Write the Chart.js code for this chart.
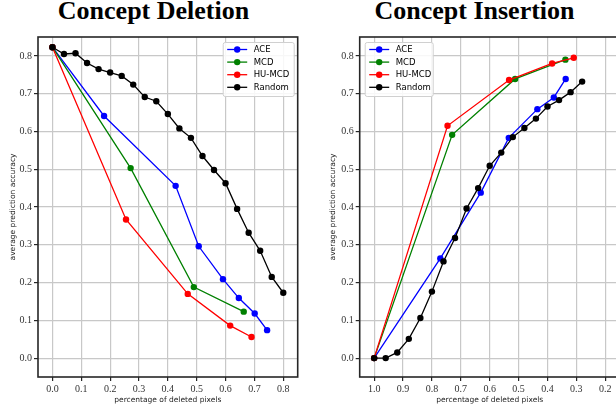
<!DOCTYPE html>
<html>
<head>
<meta charset="utf-8">
<script src="https://cdn.jsdelivr.net/npm/chart.js@4.4.0/dist/chart.umd.min.js"></script>
<style>
  html, body { margin: 0; padding: 0; background: #fff; }
  body { width: 616px; height: 410px; overflow: hidden; position: relative; }
  .title { position: absolute; width: 300px; text-align: center; font: bold 26px "Liberation Serif", serif; line-height: 26px; color: #000; white-space: nowrap; }
  .wrap { position: absolute; top: 0; height: 410px; }
</style>
</head>
<body>
<div class="title" style="left:3.5px;top:-2.3px;">Concept Deletion</div>
<div class="title" style="left:324.5px;top:-2.3px;">Concept Insertion</div>
<div class="wrap" style="left:0;width:308px;"><canvas id="c1" width="308" height="410"></canvas></div>
<div class="wrap" style="left:308px;width:322px;"><canvas id="c2" width="322" height="410"></canvas></div>
<script>
// ---------- data ----------
const seriesNames = ['ACE', 'MCD', 'HU-MCD', 'Random'];
const seriesColors = ['#0000ff', '#008000', '#ff0000', '#000000'];

// Concept Deletion
const aceDelX = [0.0, 0.179, 0.427, 0.507, 0.591, 0.646, 0.701, 0.744];
const aceDelY = [0.823, 0.641, 0.456, 0.296, 0.209, 0.159, 0.118, 0.074];
const mcdDelX = [0.0, 0.271, 0.490, 0.663];
const mcdDelY = [0.823, 0.503, 0.188, 0.123];
const huDelX = [0.0, 0.255, 0.469, 0.616, 0.690];
const huDelY = [0.823, 0.367, 0.170, 0.086, 0.056];
const randDelX = [0.0, 0.04, 0.08, 0.12, 0.16, 0.20, 0.24, 0.28, 0.32, 0.36, 0.40, 0.44, 0.48, 0.52, 0.56, 0.60, 0.64, 0.68, 0.72, 0.76, 0.80];
const randDelY = [0.823, 0.805, 0.807, 0.781, 0.765, 0.756, 0.747, 0.724, 0.691, 0.680, 0.646, 0.608, 0.583, 0.535, 0.498, 0.463, 0.395, 0.332, 0.284, 0.215, 0.173];

// Concept Insertion
const aceInsX = [1.0, 0.771, 0.631, 0.534, 0.435, 0.378, 0.337];
const aceInsY = [0.0, 0.264, 0.438, 0.583, 0.659, 0.690, 0.739];
const mcdInsX = [1.0, 0.730, 0.512, 0.338];
const mcdInsY = [0.0, 0.591, 0.739, 0.790];
const huInsX = [1.0, 0.746, 0.533, 0.384, 0.309];
const huInsY = [0.0, 0.615, 0.736, 0.780, 0.795];
const randInsX = [1.0, 0.96, 0.92, 0.88, 0.84, 0.80, 0.76, 0.72, 0.68, 0.64, 0.60, 0.56, 0.52, 0.48, 0.44, 0.40, 0.36, 0.32, 0.28];
const randInsY = [0.0, 0.0, 0.015, 0.051, 0.106, 0.176, 0.256, 0.318, 0.396, 0.450, 0.509, 0.544, 0.585, 0.609, 0.634, 0.666, 0.683, 0.704, 0.732];

// ticks
const yTicks = [0.0, 0.1, 0.2, 0.3, 0.4, 0.5, 0.6, 0.7, 0.8];
const xTicksDel = [0.0, 0.1, 0.2, 0.3, 0.4, 0.5, 0.6, 0.7, 0.8];
const xTicksIns = [1.0, 0.9, 0.8, 0.7, 0.6, 0.5, 0.4, 0.3, 0.2];

const xLabel = 'percentage of deleted pixels';
const yLabel = 'average prediction accuracy';

// ---------- helpers ----------
function pts(xs, ys) { return xs.map((x, i) => ({ x: x, y: ys[i] })); }

function makeDatasets(groups) {
  return groups.map((g, i) => ({
    label: seriesNames[i],
    data: pts(g[0], g[1]),
    borderColor: seriesColors[i],
    backgroundColor: seriesColors[i],
    pointBackgroundColor: seriesColors[i],
    pointBorderColor: seriesColors[i],
    pointRadius: 3.2,
    pointBorderWidth: 0,
    borderWidth: 1.3,
    tension: 0,
    order: 4 - i
  }));
}

const frameAndLegend = {
  id: 'frameAndLegend',
  afterDraw(chart, args, opts) {
    const ctx = chart.ctx;
    const a = chart.chartArea;
    ctx.save();
    // frame
    ctx.strokeStyle = '#262626';
    ctx.lineWidth = 1.6;
    ctx.strokeRect(a.left, a.top, a.right - a.left, a.bottom - a.top);
    // legend
    const w = opts.w, h = opts.h;
    const bx = opts.side === 'right' ? a.right - 4 - w : a.left + 5;
    const by = a.top + 5;
    ctx.fillStyle = 'rgba(255,255,255,0.85)';
    ctx.strokeStyle = '#d0d0d0';
    ctx.lineWidth = 1;
    ctx.beginPath();
    if (ctx.roundRect) ctx.roundRect(bx + 0.5, by + 0.5, w, h, 2); else ctx.rect(bx + 0.5, by + 0.5, w, h);
    ctx.fill();
    ctx.stroke();
    ctx.font = '8.5px "DejaVu Sans", sans-serif';
    ctx.textBaseline = 'middle';
    ctx.textAlign = 'left';
    chart.data.datasets.forEach((ds, i) => {
      const yy = by + 7.5 + i * 12.6;
      ctx.strokeStyle = ds.borderColor;
      ctx.lineWidth = 1.3;
      ctx.beginPath();
      ctx.moveTo(bx + 4.5, yy);
      ctx.lineTo(bx + 24.5, yy);
      ctx.stroke();
      ctx.fillStyle = ds.borderColor;
      ctx.beginPath();
      ctx.arc(bx + 14.5, yy, 3.2, 0, Math.PI * 2);
      ctx.fill();
      ctx.fillStyle = '#000';
      ctx.fillText(ds.label, bx + 31, yy + 0.5);
    });
    ctx.restore();
  }
};

function makeChart(id, datasets, xTicks, xMin, xMax, reverse, yAxisWidth, yTitlePad, legendSide, legendW) {
  return new Chart(document.getElementById(id), {
    type: 'line',
    data: { datasets: datasets },
    plugins: [frameAndLegend],
    options: {
      responsive: false,
      animation: false,
      devicePixelRatio: 1,
      events: [],
      layout: { padding: { top: 37, right: 10.3, left: 0, bottom: 0 } },
      plugins: {
        legend: { display: false },
        tooltip: { enabled: false },
        title: { display: false },
        frameAndLegend: { side: legendSide, w: legendW, h: 54 }
      },
      scales: {
        x: {
          type: 'linear',
          min: xMin, max: xMax,
          reverse: reverse,
          afterBuildTicks: s => { s.ticks = xTicks.map(v => ({ value: v })); },
          afterFit: s => { s.height = 33; },
          ticks: {
            padding: 2,
            color: '#333',
            font: { family: '"Liberation Serif", serif', size: 10 },
            maxRotation: 0,
            autoSkip: false,
            callback: v => Number(v).toFixed(1)
          },
          grid: { color: '#c8c8c8', lineWidth: 1.2, tickColor: '#262626', tickLength: 4, tickWidth: 1.2 },
          border: { display: false },
          title: {
            display: true, text: xLabel, color: '#222',
            font: { family: '"DejaVu Sans", sans-serif', size: 7.5 },
            padding: { top: 0, bottom: 5.5 }
          }
        },
        y: {
          type: 'linear',
          min: -0.05, max: 0.85,
          afterBuildTicks: s => { s.ticks = yTicks.map(v => ({ value: v })); },
          afterFit: s => { s.width = yAxisWidth; },
          ticks: {
            padding: 2,
            color: '#333',
            font: { family: '"Liberation Serif", serif', size: 10 },
            autoSkip: false,
            callback: v => Number(v).toFixed(1)
          },
          grid: { color: '#c8c8c8', lineWidth: 1.2, tickColor: '#262626', tickLength: 4, tickWidth: 1.2 },
          border: { display: false },
          title: {
            display: true, text: yLabel, color: '#222',
            font: { family: '"DejaVu Sans", sans-serif', size: 7.5 },
            padding: { top: yTitlePad, bottom: 0 }
          }
        }
      }
    }
  });
}

makeChart('c1',
  makeDatasets([[aceDelX, aceDelY], [mcdDelX, mcdDelY], [huDelX, huDelY], [randDelX, randDelY]]),
  xTicksDel, -0.05, 0.85, false, 38, 8.2, 'right', 71);

makeChart('c2',
  makeDatasets([[aceInsX, aceInsY], [mcdInsX, mcdInsY], [huInsX, huInsY], [randInsX, randInsY]]),
  xTicksIns, 0.15, 1.05, true, 51.7, 20.5, 'left', 68);
</script>
</body>
</html>
